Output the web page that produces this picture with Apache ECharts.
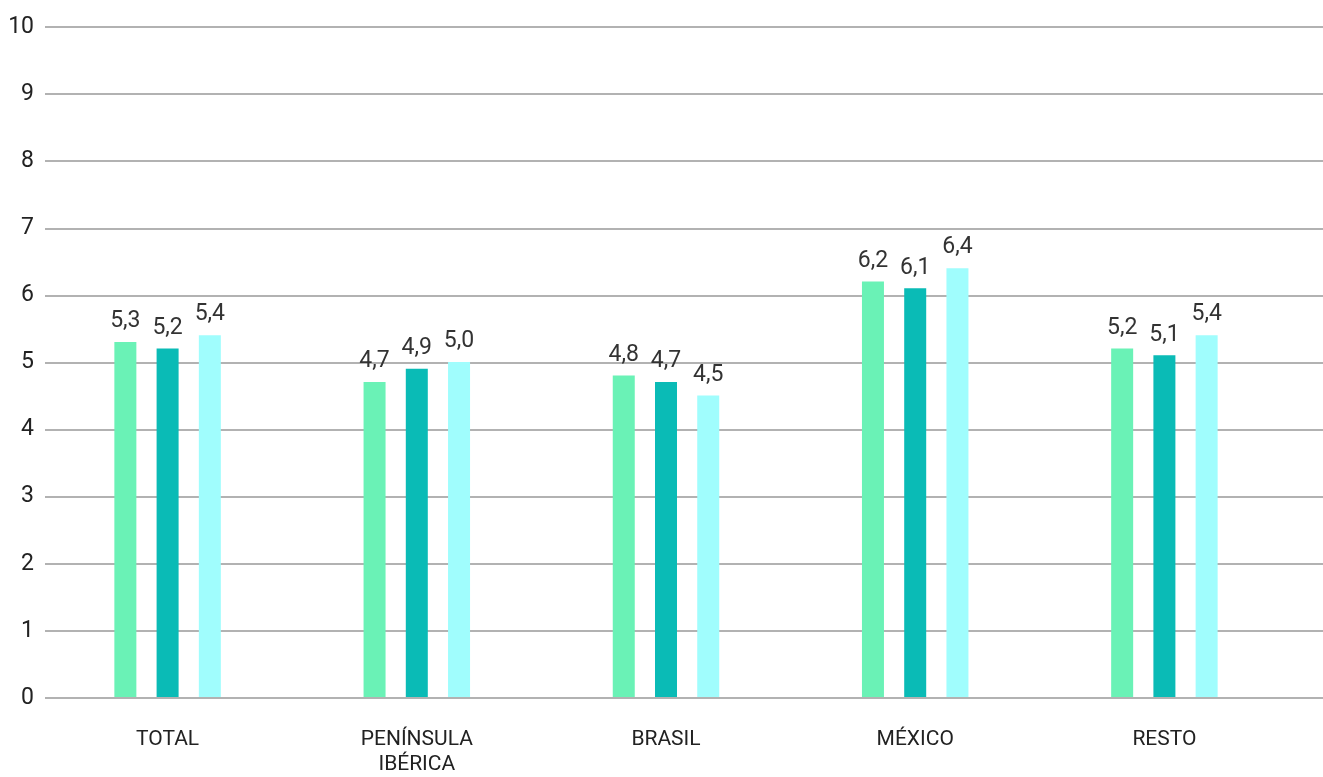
<!DOCTYPE html>
<html>
<head>
<meta charset="utf-8">
<script src="https://cdn.jsdelivr.net/npm/echarts@6/dist/echarts.min.js"></script>
<style>
html,body{margin:0;padding:0;background:#fff;}
#chart{width:1323px;height:777px;}
</style>
</head>
<body>
<div id="chart"></div>
<script>
const categories = ['TOTAL', 'PENÍNSULA\nIBÉRICA', 'BRASIL', 'MÉXICO', 'RESTO'];
const serieA = [5.3, 4.7, 4.8, 6.2, 5.2];
const serieB = [5.2, 4.9, 4.7, 6.1, 5.1];
const serieC = [5.4, 5.0, 4.5, 6.4, 5.4];
const seriesNames = ['Serie 1', 'Serie 2', 'Serie 3'];
const seriesData = [serieA, serieB, serieC];
const colors = ['#6AF2B6', '#0ABBB6', '#A0FDFD'];

const FONT = "Roboto, 'DejaVu Sans', sans-serif";
const chart = echarts.init(document.getElementById('chart'), null, {renderer: 'canvas'});

const fmt = v => v.toFixed(1).replace('.', ',');

chart.setOption({
  animation: false,
  grid: [
    {left: 45, right: 0, top: 27, bottom: 79},
    {left: 43, right: 34, top: 27, bottom: 78}
  ],
  xAxis: [
    {gridIndex: 0, type: 'value', min: 0, max: 1, show: false},
    {gridIndex: 1, type: 'category', data: categories,
     axisLine: {show: false}, axisTick: {show: false},
     axisLabel: {color: '#222', fontFamily: FONT, fontSize: 21, margin: 30, lineHeight: 25, interval: 0}}
  ],
  yAxis: [
    {gridIndex: 0, type: 'value', min: 0, max: 10, interval: 1,
     axisLine: {show: false}, axisTick: {show: false},
     axisLabel: {color: '#222', fontFamily: FONT, fontSize: 23, margin: 11},
     splitLine: {lineStyle: {color: '#999', width: 1.5}}},
    {gridIndex: 1, type: 'value', min: 0, max: 10, interval: 1, show: false, splitLine: {show: false}}
  ],
  series: seriesData.map((d, i) => ({
    name: seriesNames[i],
    type: 'bar',
    xAxisIndex: 1,
    yAxisIndex: 1,
    data: d,
    barWidth: 22,
    barGap: '92%',
    itemStyle: {color: colors[i]},
    label: {show: true, position: 'top', distance: 9, color: '#333', fontFamily: FONT, fontSize: 23,
            formatter: p => fmt(p.value)}
  }))
});
</script>
</body>
</html>
